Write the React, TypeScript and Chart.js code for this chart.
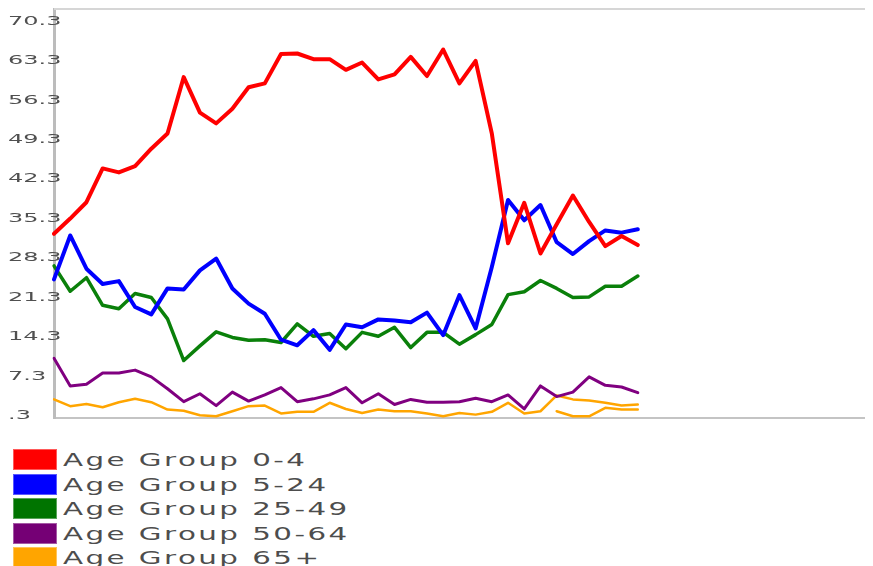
import React, { useEffect, useRef } from "react";
import { Chart, registerables } from "chart.js";

Chart.register(...registerables);

const weeks = [
  "1", "2", "3", "4", "5", "6", "7", "8", "9", "10", "11", "12", "13",
  "14", "15", "16", "17", "18", "19", "20", "21", "22", "23", "24", "25", "26",
  "27", "28", "29", "30", "31", "32", "33", "34", "35", "36", "37", "38", "39",
  "40", "41", "42", "43", "44", "45", "46", "47", "48", "49", "50", "51", "52",
];

const age0to4 = [
  32.4, 35.1, 38.0, 44.0, 43.3, 44.4, 47.5, 50.2, 60.2, 53.9, 52.0, 54.6, 58.4,
  59.1, 64.3, 64.4, 63.4, 63.4, 61.5, 62.8, 59.8, 60.7, 63.8, 60.4, 65.1, 59.1,
  63.1, 50.2, 30.7, 37.9, 28.9, 34.1, 39.2, 34.5, 30.2, 32.0, 30.4,
];
const age5to24 = [
  24.3, 32.1, 26.2, 23.5, 24.0, 19.4, 18.1, 22.7, 22.5, 25.9, 28.0, 22.7, 20.0,
  18.2, 13.6, 12.6, 15.3, 11.8, 16.3, 15.8, 17.2, 17.0, 16.7, 18.4, 14.4, 21.5,
  15.6, 26.5, 38.4, 34.8, 37.5, 30.9, 28.8, 31.1, 33.0, 32.6, 33.2,
];
const age25to49 = [
  26.7, 22.2, 24.6, 19.7, 19.1, 21.8, 21.1, 17.3, 9.9, 12.5, 15.0, 14.0, 13.5,
  13.6, 13.1, 16.4, 14.2, 14.7, 12.0, 14.9, 14.2, 15.8, 12.2, 14.9, 14.9, 12.8,
  14.5, 16.3, 21.6, 22.1, 24.1, 22.7, 21.1, 21.2, 23.1, 23.1, 24.9,
];
const age50to64 = [
  10.3, 5.4, 5.7, 7.7, 7.7, 8.2, 7.0, 4.9, 2.6, 4.0, 1.9, 4.3, 2.7,
  3.8, 5.1, 2.6, 3.1, 3.8, 5.1, 2.4, 4.0, 2.1, 3.0, 2.5, 2.5, 2.6,
  3.2, 2.6, 3.8, 1.3, 5.4, 3.5, 4.3, 7.0, 5.5, 5.2, 4.2,
];
const age65plus = [
  3.0, 1.8, 2.2, 1.6, 2.5, 3.1, 2.5, 1.2, 1.0, 0.2, 0.0, 0.9, 1.8,
  1.9, 0.5, 0.8, 0.8, 2.4, 1.3, 0.6, 1.2, 0.9, 0.9, 0.5, 0.0, 0.6,
  0.3, 0.8, 2.4, 0.5, 0.9, 3.7, 3.0, 2.8, 2.4, 1.9, 2.1,
];
const ageUnknown = [
  null, null, null, null, null, null, null, null, null, null, null, null, null,
  null, null, null, null, null, null, null, null, null, null, null, null, null,
  null, null, null, null, null, 0.9, 0.0, 0.0, 1.5, 1.2, 1.2,
];

const seriesNames = [
  "Age Group 0-4",
  "Age Group 5-24",
  "Age Group 25-49",
  "Age Group 50-64",
  "Age Group 65+",
  "Unknown",
];
const seriesData = [age0to4, age5to24, age25to49, age50to64, age65plus, ageUnknown];
const lineColors = ["#ff0000", "#0000ff", "#0a800a", "#800080", "#ffa500", "#ffa500"];
const legendColors = ["#ff0000", "#0000ff", "#007400", "#750075", "#ffa500"];
const lineWidths = [4, 4, 3.5, 3, 2.5, 2.5];

const yTickValues = [0.3, 7.3, 14.3, 21.3, 28.3, 35.3, 42.3, 49.3, 56.3, 63.3, 70.3];
const yTickLabels = [".3", "7.3", "14.3", "21.3", "28.3", "35.3", "42.3", "49.3", "56.3", "63.3", "70.3"];

const framePlugin = {
  id: "topFrame",
  beforeDatasetsDraw(chart: any) {
    const { ctx, chartArea } = chart;
    ctx.save();
    ctx.strokeStyle = "#d6d6d6";
    ctx.lineWidth = 2;
    ctx.beginPath();
    ctx.moveTo(chartArea.left, chartArea.top);
    ctx.lineTo(chart.width, chartArea.top);
    ctx.stroke();
    ctx.restore();
  },
};

const yLabelPlugin = {
  id: "stretchedYLabels",
  afterDraw(chart: any) {
    const scale = chart.scales.y;
    const ctx = chart.ctx;
    ctx.save();
    ctx.font = '12px "DejaVu Sans"';
    ctx.fillStyle = "#505050";
    ctx.textAlign = "left";
    ctx.textBaseline = "alphabetic";
    yTickValues.forEach((v, i) => {
      const py = scale.getPixelForValue(v);
      ctx.save();
      ctx.translate(0, py + 4.4);
      ctx.scale(2, 1);
      ctx.fillText(yTickLabels[i], 0, 0);
      ctx.restore();
    });
    ctx.restore();
  },
};

export default function App() {
  const canvasRef = useRef<HTMLCanvasElement | null>(null);

  useEffect(() => {
    if (!canvasRef.current) return;
    const chart = new Chart(canvasRef.current, {
      type: "line",
      data: {
        labels: weeks,
        datasets: seriesData.map((d, i) => ({
          label: seriesNames[i],
          data: d,
          borderColor: lineColors[i],
          backgroundColor: lineColors[i],
          borderWidth: lineWidths[i],
          pointRadius: 0,
          tension: 0,
          fill: false,
          borderJoinStyle: "round" as const,
          borderCapStyle: "round" as const,
          spanGaps: false,
        })),
      },
      options: {
        responsive: true,
        maintainAspectRatio: false,
        animation: false,
        layout: { padding: { top: 1, bottom: 10, right: 9, left: 0 } },
        plugins: {
          legend: { display: false },
          tooltip: { enabled: false },
          title: { display: false },
        },
        scales: {
          x: {
            type: "category",
            position: "bottom",
            offset: false,
            grid: { display: false, drawTicks: false },
            ticks: { display: false },
            border: { display: true, color: "#c4c4c4", width: 2 },
          },
          y: {
            type: "linear",
            position: "left",
            min: -0.3,
            max: 72.3,
            grid: { display: false, drawTicks: false },
            ticks: { display: false },
            border: { display: true, color: "#bcbcbc", width: 3 },
            afterBuildTicks: (scale: any) => {
              scale.ticks = yTickValues.map((v) => ({ value: v }));
            },
            afterFit: (scale: any) => {
              scale.width = 46;
            },
          },
        },
      },
      plugins: [framePlugin, yLabelPlugin],
    });
    return () => chart.destroy();
  }, []);

  return (
    <div style={{ width: 865, height: 558, overflow: "hidden", position: "relative" }}>
      <div style={{ position: "absolute", left: 0, top: 0, width: 882, height: 420 }}>
        <canvas ref={canvasRef} />
      </div>
      <div style={{ position: "absolute", left: 5, top: 439.25 }}>
        {seriesNames.slice(0, 5).map((name, i) => (
          <div key={name} style={{ display: "flex", alignItems: "center", height: 24.5 }}>
            <div
              style={{
                width: 44,
                height: 21,
                background: legendColors[i],
                boxSizing: "border-box",
                border: "1px solid rgba(255,255,255,0.35)",
                flex: "0 0 auto",
              }}
            />
            <span
              style={{
                marginLeft: 6,
                font: '18px "DejaVu Sans"',
                letterSpacing: "1.5px",
                color: "#4d4d4d",
                display: "inline-block",
                whiteSpace: "nowrap",
                transform: "scaleX(1.63)",
                transformOrigin: "left center",
                lineHeight: "21px",
              }}
            >
              {name}
            </span>
          </div>
        ))}
      </div>
    </div>
  );
}
